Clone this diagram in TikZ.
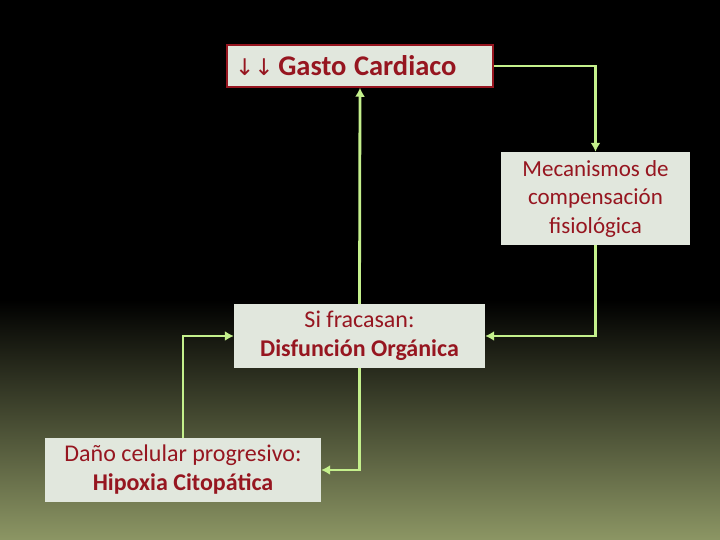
\documentclass[tikz,border=0pt]{standalone}
\usepackage{fontspec}
\setmainfont{Carlito}
\newfontfamily\arrowfont{DejaVu Sans}
\usepackage{tikz}
\usetikzlibrary{arrows.meta, positioning}
\definecolor{textred}{RGB}{150,22,32}
\definecolor{boxfill}{RGB}{225,231,221}
\definecolor{linkgreen}{RGB}{196,240,140}
\definecolor{olive}{RGB}{140,150,100}

\begin{document}
\begin{tikzpicture}[x=1pt, y=-1pt,
  box/.style={fill=boxfill, text=textred, align=center, inner sep=0pt, font=\fontsize{24}{29}\selectfont},
  link/.style={draw=linkgreen, line width=2.8pt, -{Latex[length=9pt,width=10pt]}}]
% background
\fill[black] (0,0) rectangle (720,300);
\shade[top color=black, bottom color=olive] (0,300) rectangle (720,540);
\useasboundingbox (0,0) rectangle (720,540);

\node[box, draw=textred, line width=1.5pt, text width=250pt, align=left, inner xsep=8pt, minimum height=42pt, font=\fontsize{28.5}{32}\selectfont\bfseries] (gasto) at (360,66) {{\arrowfont\mdseries\fontsize{23}{30}\selectfont ↓↓}\,Gasto\hspace{-2pt} Cardiaco};
\node[box, minimum width=189pt, minimum height=93pt, font=\fontsize{23}{28.5}\selectfont] (meca) at (595.5,198.5) {Mecanismos de\\compensación\\fisiológica};
\node[box, minimum width=251pt, minimum height=64pt] (sifra) at (359.5,336) {Si fracasan:\\\textbf{Disfunción Orgánica}};
\node[box, minimum width=276pt, minimum height=64pt] (dano) at (183,470) {Daño celular progresivo:\\\textbf{Hipoxia Citopática}};

\draw[link] (gasto.east) -| (meca.north);
\draw[link] (meca.south) |- (sifra.east);
\draw[link] (sifra.south) |- (dano.east);
\draw[link] (dano.north) |- (sifra.west);
\draw[link] (sifra.north) -- (gasto.south);
\end{tikzpicture}
\end{document}
